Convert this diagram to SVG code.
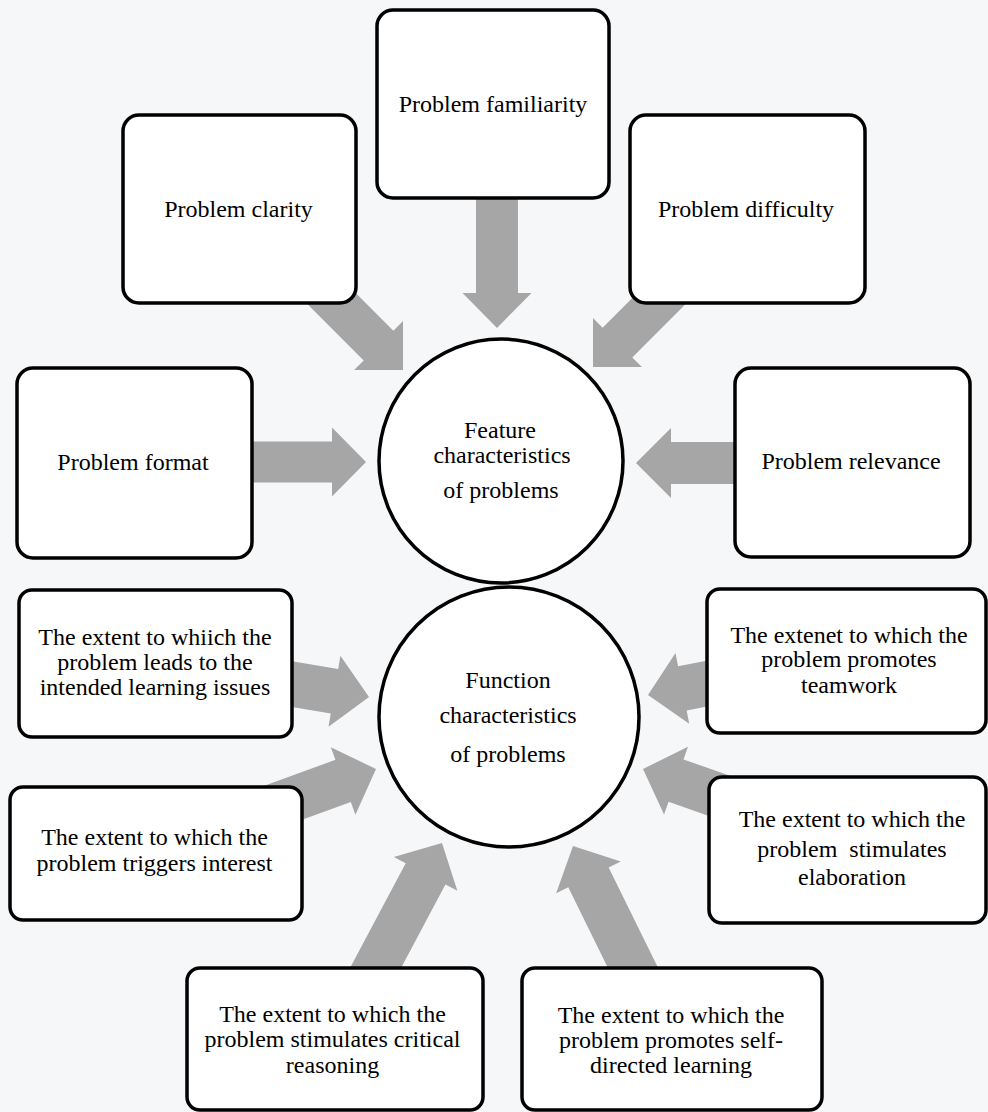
<svg xmlns="http://www.w3.org/2000/svg" width="988" height="1112" viewBox="0 0 988 1112">
<style>
.box{fill:#fff;stroke:#000;stroke-width:3.5}
.circ{fill:#fff;stroke:#000;stroke-width:3.5}
.arr{fill:#a6a6a6;stroke:none}
text{font-family:"Liberation Serif","Times New Roman",serif;font-size:24px;fill:#000;text-anchor:middle}
</style>
<rect x="0" y="0" width="988" height="1112" fill="#f6f7f9"/>
<g id="connectors">
<polygon class="arr" transform="translate(366,462) rotate(0)" points="0,0 -34,-34.5 -34,-20.5 -130,-20.5 -130,20.5 -34,20.5 -34,34.5"/>
<polygon class="arr" transform="translate(636,463) rotate(180)" points="0,0 -35,-35 -35,-21 -130,-21 -130,21 -35,21 -35,35"/>
<polygon class="arr" transform="translate(497,328) rotate(90)" points="0,0 -35,-34.5 -35,-21 -150,-21 -150,21 -35,21 -35,34.5"/>
<polygon class="arr" transform="translate(403,370) rotate(45)" points="0,0 -34.6,-34.6 -34.6,-21 -120,-21 -120,21 -34.6,21 -34.6,34.6"/>
<polygon class="arr" transform="translate(593,367) rotate(135)" points="0,0 -34.6,-34.6 -34.6,-21 -120,-21 -120,21 -34.6,21 -34.6,34.6"/>
<polygon class="arr" transform="translate(369,697) rotate(9.5)" points="0,0 -35,-36 -35,-22.5 -100,-22.5 -100,22.5 -35,22.5 -35,36"/>
<polygon class="arr" transform="translate(376,769) rotate(-20)" points="0,0 -35,-36 -35,-22.5 -130,-22.5 -130,22.5 -35,22.5 -35,36"/>
<polygon class="arr" transform="translate(442,843) rotate(-62)" points="0,0 -35,-36 -35,-22.5 -165,-22.5 -165,22.5 -35,22.5 -35,36"/>
<polygon class="arr" transform="translate(573,846) rotate(-116.2)" points="0,0 -35,-36 -35,-22.5 -165,-22.5 -165,22.5 -35,22.5 -35,36"/>
<polygon class="arr" transform="translate(643,769) rotate(199.4)" points="0,0 -35,-36 -35,-22.5 -110,-22.5 -110,22.5 -35,22.5 -35,36"/>
<polygon class="arr" transform="translate(648,695) rotate(169)" points="0,0 -35,-36 -35,-22.5 -110,-22.5 -110,22.5 -35,22.5 -35,36"/>
</g>
<g id="feature">
<circle class="circ" cx="501" cy="461" r="122"/>
<text x="500" y="438">Feature</text>
<text x="502" y="463">characteristics</text>
<text x="501" y="498">of problems</text>
</g>
<g id="function">
<circle class="circ" cx="509" cy="717" r="130"/>
<text x="508" y="688">Function</text>
<text x="508" y="723">characteristics</text>
<text x="508" y="762">of problems</text>
</g>
<g id="familiarity">
<rect class="box" x="377" y="10" width="232" height="188" rx="16"/>
<text x="493" y="112">Problem familiarity</text>
</g>
<g id="clarity">
<rect class="box" x="123" y="115" width="233" height="188" rx="16"/>
<text x="238.5" y="217">Problem clarity</text>
</g>
<g id="difficulty">
<rect class="box" x="630" y="115" width="235" height="188" rx="16"/>
<text x="746" y="217">Problem difficulty</text>
</g>
<g id="format">
<rect class="box" x="17" y="368" width="235" height="190" rx="16"/>
<text x="133" y="470">Problem format</text>
</g>
<g id="relevance">
<rect class="box" x="735" y="368" width="235" height="189" rx="16"/>
<text x="851" y="469">Problem relevance</text>
</g>
<g id="issues">
<rect class="box" x="19" y="590" width="273" height="147" rx="13"/>
<text x="155" y="645">The extent to whiich the</text>
<text x="155" y="670">problem leads to the</text>
<text x="155" y="695">intended learning issues</text>
</g>
<g id="teamwork">
<rect class="box" x="707" y="589" width="279" height="144" rx="13"/>
<text x="849" y="643">The extenet to which the</text>
<text x="849" y="667">problem promotes</text>
<text x="849" y="693">teamwork</text>
</g>
<g id="interest">
<rect class="box" x="10" y="787" width="292" height="133" rx="13"/>
<text x="154.5" y="845">The extent to which the</text>
<text x="154.5" y="871">problem triggers interest</text>
</g>
<g id="elaboration">
<rect class="box" x="709" y="777" width="277" height="146" rx="13"/>
<text x="852" y="827">The extent to which the</text>
<text x="852" y="857" style="white-space:pre">problem  stimulates</text>
<text x="852" y="885">elaboration</text>
</g>
<g id="critical">
<rect class="box" x="187" y="968" width="296" height="142" rx="13"/>
<text x="332.5" y="1022">The extent to which the</text>
<text x="332.5" y="1047">problem stimulates critical</text>
<text x="332.5" y="1073">reasoning</text>
</g>
<g id="selfdirected">
<rect class="box" x="522" y="968" width="300" height="142" rx="13"/>
<text x="671" y="1023">The extent to which the</text>
<text x="671" y="1048">problem promotes self-</text>
<text x="671" y="1073">directed learning</text>
</g>
</svg>
